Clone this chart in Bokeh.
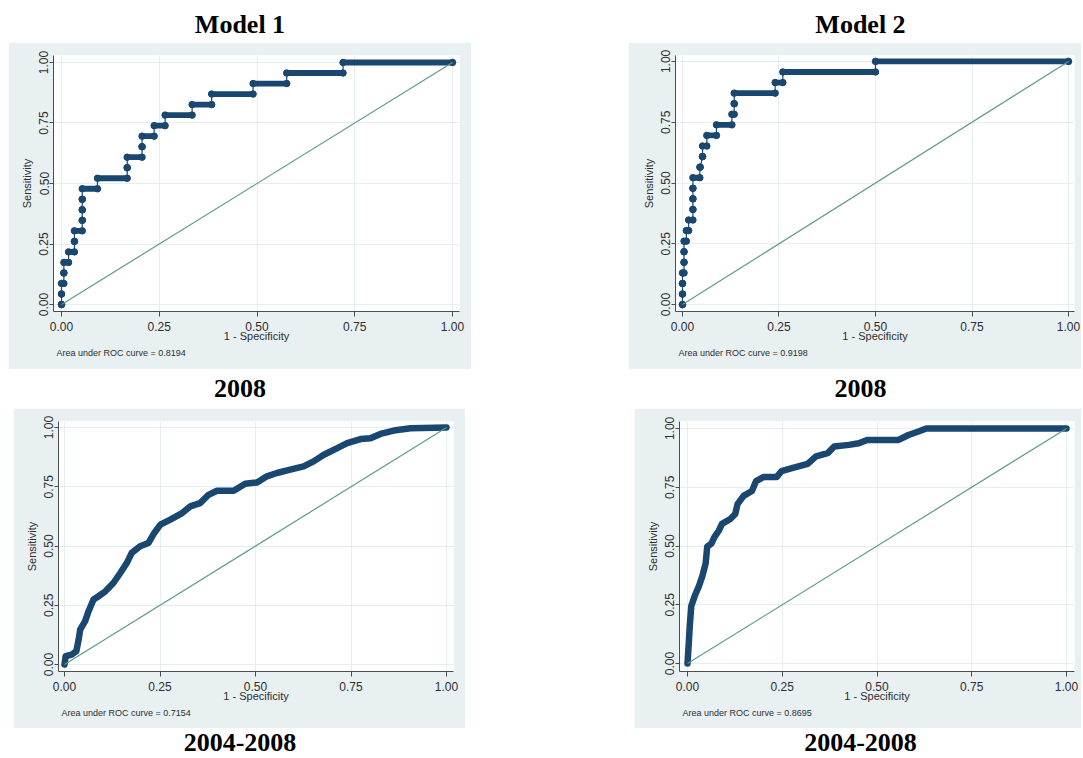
from bokeh.plotting import figure
from bokeh.models import Range1d, FixedTicker, NumeralTickFormatter, Title, Div, Spacer
from bokeh.layouts import column, row
from bokeh.embed import file_html
from bokeh.resources import INLINE

# ---------------- data ----------------
diag = [0.0, 1.0]
ticks = [0.0, 0.25, 0.5, 0.75, 1.0]

# Model 1, 2008: ROC step levels (sensitivity) and the 1-specificity span of each level
a_tpr = [0/23, 1/23, 2/23, 3/23, 4/23, 5/23, 6/23, 7/23, 8/23, 9/23, 10/23, 11/23,
         12/23, 13/23, 14/23, 15/23, 16/23, 17/23, 18/23, 19/23, 20/23, 21/23, 22/23, 23/23]
a_fpr_start = [0.0, 0.0, 0.0, 0.006, 0.006, 0.018, 0.033, 0.033, 0.053, 0.053, 0.053, 0.053,
               0.092, 0.168, 0.168, 0.206, 0.206, 0.237, 0.265, 0.334, 0.384, 0.490, 0.576, 0.720]
a_fpr_end = [0.0, 0.0, 0.006, 0.006, 0.018, 0.033, 0.033, 0.053, 0.053, 0.053, 0.053, 0.092,
             0.168, 0.168, 0.206, 0.206, 0.237, 0.265, 0.334, 0.384, 0.490, 0.576, 0.720, 1.0]

# Model 2, 2008
b_tpr = a_tpr
b_fpr_start = [0.0, 0.0, 0.0, 0.0, 0.004, 0.004, 0.004, 0.010, 0.016, 0.027, 0.027, 0.027,
               0.027, 0.045, 0.052, 0.052, 0.063, 0.088, 0.128, 0.134, 0.134, 0.240, 0.260, 0.500]
b_fpr_end = [0.0, 0.0, 0.0, 0.004, 0.004, 0.004, 0.010, 0.016, 0.027, 0.027, 0.027, 0.027,
             0.045, 0.046, 0.052, 0.063, 0.088, 0.128, 0.134, 0.134, 0.240, 0.260, 0.500, 1.0]

# Model 1, 2004-2008
c_fpr = [0.0, 0.003, 0.019, 0.031, 0.037, 0.041, 0.054, 0.063, 0.076, 0.089, 0.107, 0.128,
         0.146, 0.163, 0.176, 0.198, 0.220, 0.235, 0.251, 0.277, 0.308, 0.329, 0.355, 0.377,
         0.399, 0.443, 0.473, 0.504, 0.530, 0.556, 0.591, 0.626, 0.652, 0.679, 0.714, 0.740,
         0.775, 0.801, 0.827, 0.862, 0.906, 1.0]
c_tpr = [0.0, 0.035, 0.042, 0.056, 0.105, 0.147, 0.183, 0.225, 0.274, 0.288, 0.309, 0.344,
         0.386, 0.428, 0.471, 0.499, 0.513, 0.555, 0.590, 0.611, 0.639, 0.667, 0.681, 0.716,
         0.733, 0.733, 0.763, 0.768, 0.794, 0.808, 0.822, 0.836, 0.857, 0.885, 0.913, 0.934,
         0.951, 0.955, 0.973, 0.987, 0.997, 1.0]

# Model 2, 2004-2008
d_fpr = [0.0, 0.003, 0.006, 0.010, 0.019, 0.030, 0.039, 0.048, 0.052, 0.063, 0.071, 0.083,
         0.091, 0.113, 0.126, 0.132, 0.148, 0.170, 0.181, 0.200, 0.235, 0.248, 0.278, 0.317,
         0.339, 0.370, 0.387, 0.426, 0.452, 0.474, 0.557, 0.583, 0.613, 0.630, 1.0]
d_tpr = [0.0, 0.077, 0.161, 0.245, 0.287, 0.329, 0.371, 0.427, 0.497, 0.510, 0.538, 0.566,
         0.594, 0.615, 0.636, 0.678, 0.713, 0.734, 0.776, 0.793, 0.793, 0.818, 0.832, 0.849,
         0.881, 0.895, 0.923, 0.930, 0.937, 0.951, 0.951, 0.972, 0.989, 1.0, 1.0]

auc_texts = ["Area under ROC curve = 0.8194", "Area under ROC curve = 0.9198",
             "Area under ROC curve = 0.7154", "Area under ROC curve = 0.8695"]
col_titles_top = ["Model 1", "Model 2"]
mid_titles = ["2008", "2008"]
bottom_titles = ["2004-2008", "2004-2008"]

# ---------------- style ----------------
NAVY = "#1a476f"
REF = "#5f9a8a"
BG = "#e8f0f2"
GRID = "#e6eef0"
TXT = "#2e2e2e"
FONT = "Liberation Sans"


def make_panel(w, h, bl, br, bt, bb, xr, yr, auc):
    p = figure(width=w, height=h, x_range=Range1d(*xr), y_range=Range1d(*yr),
               output_backend="svg", toolbar_location=None, title=None,
               min_border_left=bl, min_border_right=br, min_border_top=bt,
               min_border_bottom=bb)
    p.border_fill_color = BG
    p.background_fill_color = "white"
    p.outline_line_color = None
    for ax in (p.xaxis[0], p.yaxis[0]):
        ax.ticker = FixedTicker(ticks=ticks)
        ax.formatter = NumeralTickFormatter(format="0.00")
        ax.major_tick_in = 0
        ax.minor_tick_line_color = None
        ax.axis_line_color = "#4d4d4d"
        ax.major_tick_line_color = "#4d4d4d"
        ax.major_label_text_font = FONT
        ax.major_label_text_font_size = "12px"
        ax.major_label_text_color = TXT
        ax.axis_label_text_font = FONT
        ax.axis_label_text_font_size = "11px"
        ax.axis_label_text_font_style = "normal"
        ax.axis_label_text_color = TXT
    p.xaxis.axis_label = "1 - Specificity"
    p.yaxis.axis_label = "Sensitivity"
    p.yaxis.major_label_orientation = "vertical"
    p.xaxis.major_tick_out = 5
    p.yaxis.major_tick_out = 4
    p.xaxis.major_label_standoff = 5
    p.yaxis.major_label_standoff = 1
    p.xaxis.axis_label_standoff = -4
    p.yaxis.axis_label_standoff = 4
    p.xgrid.ticker = FixedTicker(ticks=ticks)
    p.ygrid.ticker = FixedTicker(ticks=ticks)
    p.grid.grid_line_color = GRID
    p.grid.grid_line_width = 1
    t = Title(text=auc, align="left", text_font=FONT, text_font_size="9px",
              text_font_style="normal", text_color=TXT, offset=3, standoff=2)
    p.add_layout(t, "below")
    return p


def step_curve(p, tpr, x0, x1):
    px, py = [], []
    for y, a, b in zip(tpr, x0, x1):
        px += [a, b]
        py += [y, y]
    p.line(px, py, line_color=NAVY, line_width=1.2)
    p.segment(x0, tpr, x1, tpr, line_color=NAVY, line_width=5.8, line_cap="round")
    p.scatter(x0, tpr, size=6.5, marker="circle", fill_color=NAVY, line_color=NAVY)
    p.scatter(x1, tpr, size=6.5, marker="circle", fill_color=NAVY, line_color=NAVY)


def smooth_curve(p, x, y):
    p.line(x, y, line_color=NAVY, line_width=6.5, line_join="round", line_cap="round")


def ref_line(p):
    p.line(diag, diag, line_color=REF, line_width=1.2)


pa = make_panel(463, 327, 45, 12, 13, 58, (-0.0205, 1.0179), (-0.0289, 1.0289), auc_texts[0])
step_curve(pa, a_tpr, a_fpr_start, a_fpr_end)
ref_line(pa)

pb = make_panel(453, 327, 47, 7, 11, 56, (-0.0181, 1.0155), (-0.0283, 1.0243), auc_texts[1])
step_curve(pb, b_tpr, b_fpr_start, b_fpr_end)
ref_line(pb)

pc = make_panel(452, 320, 45, 12, 13, 57, (-0.0157, 1.0183), (-0.0295, 1.0253), auc_texts[2])
smooth_curve(pc, c_fpr, c_tpr)
ref_line(pc)

pd = make_panel(447, 320, 45, 7, 11, 56, (-0.0211, 1.0211), (-0.0336, 1.0294), auc_texts[3])
smooth_curve(pd, d_fpr, d_tpr)
ref_line(pd)


def tdiv(text, w, h):
    html = ('<div style="width:%dpx;height:%dpx;font-family:\'Liberation Serif\',\'Times New Roman\',serif;'
            'font-weight:bold;font-size:26px;text-align:center;color:#000;'
            'line-height:%dpx;">%s</div>' % (w, h, h, text))
    return Div(text=html, width=w, height=h, margin=0,
               styles={"text-align": "center", "width": "%dpx" % w})


def trow(texts, h):
    return row(tdiv(texts[0], 464, h), Spacer(width=168, height=h, margin=0),
               tdiv(texts[1], 441, h), spacing=0, margin=0)


body = column(
    Spacer(width=10, height=8, margin=0),
    trow(col_titles_top, 34),
    row(pa, Spacer(width=157, height=10, margin=0), pb, spacing=0, margin=0),
    trow(mid_titles, 39),
    row(Spacer(width=5, height=10, margin=0), pc, Spacer(width=169, height=10, margin=0), pd,
        spacing=0, margin=0),
    trow(bottom_titles, 29),
    spacing=0, margin=0,
)
layout = row(Spacer(width=8, height=10, margin=0), body, spacing=0, margin=0)

open("out.html", "w").write(file_html(layout, INLINE))
